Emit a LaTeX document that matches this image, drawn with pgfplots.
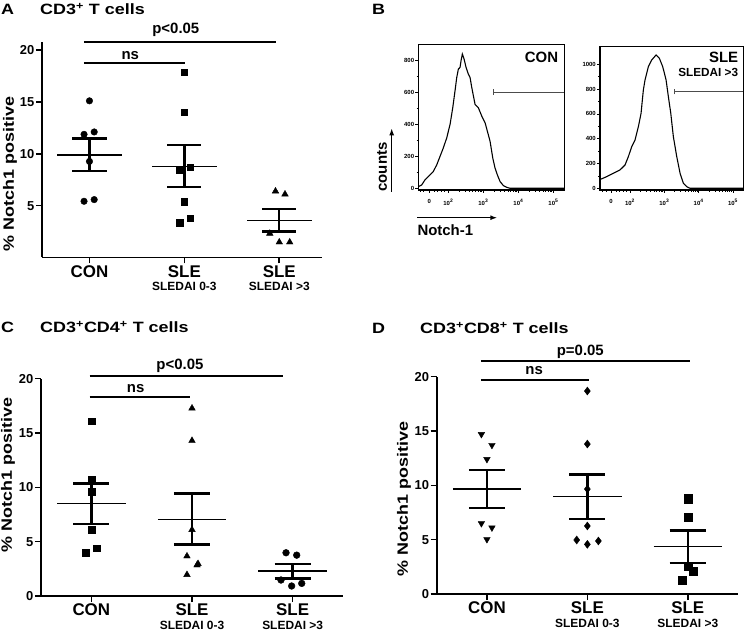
\documentclass[border=0pt]{standalone}
\usepackage{fontspec}
\setmainfont{Liberation Sans}
\usepackage{graphicx}
\usepackage{pgfplots}
\pgfplotsset{compat=1.18}
\usetikzlibrary{arrows.meta}

\newcommand{\fs}[1]{\fontsize{#1}{#1}\selectfont\bfseries}

\pgfplotsset{
  dotaxis/.style={
    scale only axis,
    axis lines=left,
    axis line style={-, line width=1.6pt},
    tick style={black, line width=1.6pt},
    tick align=outside,
    major tick length=6bp,
    xmin=0.5, ymin=0,
    xtick={1,2,3},
    clip=false,
    /pgf/number format/assume math mode=true,
    yticklabel style={font=\fs{13}, inner sep=1.5bp},
    xticklabel style={font=\fontsize{17}{14}\selectfont\bfseries, align=center, inner sep=1.5bp},
    xticklabels={CON,{SLE\\\fs{12}SLEDAI 0-3},{SLE\\\fs{12}SLEDAI >3}},
    ylabel={\scalebox{1.2}[1]{\fs{15}\% Notch1 positive}},
  },
  meanl/.style={black, line width=1.5pt, forget plot},
  seml/.style={black, line width=2.4pt, forget plot, unbounded coords=jump},
  brk/.style={black, line width=1.6pt, forget plot},
  histaxis/.style={
    scale only axis,
    axis line style={line width=1.2pt},
    tick style={black, line width=0.7pt},
    tick align=outside,
    xtick pos=left, ytick pos=left,
    major tick length=3bp, minor tick length=1.8bp,
    tick label style={font=\fs{6}},
    /pgf/number format/assume math mode=true,
    /pgf/number format/1000 sep={},
    xticklabel style={yshift=-3bp},
    yticklabel style={inner sep=1bp},
    minor y tick num=1,
  },
}

\begin{document}
\begin{tikzpicture}
\useasboundingbox (0,0) rectangle (745bp,636bp);

%================ Panel A =================
\begin{axis}[dotaxis, at={(42bp,378.5bp)}, anchor=south west,
  width=280bp, height=215.8bp, xmax=3.45, ymax=20.8,
  ytick={5,10,15,20},
  every axis y label/.style={at={([xshift=-32bp]axis description cs:0,0.387)}, rotate=90, anchor=center}]
\addplot[only marks, mark=*, mark size=3.3pt, black] coordinates {
 (1.0,15.1) (0.943,11.87) (1.05,12.1) (1.0,9.26) (0.943,5.42) (1.05,5.58)};
\addplot[only marks, mark=square*, mark size=3.2pt, black] coordinates {
 (2.0,17.87) (2.0,14.0) (1.95,8.39) (2.06,8.68) (2.0,5.39) (1.95,3.35) (2.06,3.81)};
\addplot[only marks, mark=triangle*, mark size=3.8pt, black] coordinates {
 (2.96,6.39) (3.06,6.1) (2.9,2.32) (3.0,1.48) (3.11,1.48)};
\addplot[meanl] coordinates {(0.66,9.9) (1.34,9.9)};
\addplot[seml] coordinates {(0.82,11.48) (1.18,11.48) (1.18,nan) (1,11.48) (1,8.32) (1,nan) (0.82,8.32) (1.18,8.32)};
\addplot[meanl] coordinates {(1.66,8.77) (2.34,8.77)};
\addplot[seml] coordinates {(1.82,10.84) (2.18,10.84) (2.18,nan) (2,10.84) (2,6.77) (2,nan) (1.82,6.77) (2.18,6.77)};
\addplot[meanl] coordinates {(2.66,3.58) (3.34,3.58)};
\addplot[seml] coordinates {(2.82,4.68) (3.18,4.68) (3.18,nan) (3,4.68) (3,2.52) (3,nan) (2.82,2.52) (3.18,2.52)};
\addplot[brk] coordinates {(0.94,20.75) (2.97,20.75)};
\addplot[brk] coordinates {(0.94,18.73) (2.01,18.73)};
\node[anchor=base, yshift=8.4bp, font=\fs{15}] at (axis cs:1.91,20.75) {p<0.05};
\node[anchor=base, yshift=3.7bp, font=\fs{15}] at (axis cs:1.43,18.73) {ns};
\end{axis}

%================ Panel C =================
\begin{axis}[dotaxis, at={(41bp,40bp)}, anchor=south west,
  width=302bp, height=217.3bp, xmax=3.5, ymax=20,
  ytick={0,5,10,15,20},
  every axis y label/.style={at={([xshift=-33bp]axis description cs:0,0.557)}, rotate=90, anchor=center}]
\addplot[only marks, mark=square*, mark size=3.4pt, black] coordinates {
 (1.0,16.09) (1.0,10.7) (1.0,9.6) (1.0,6.12) (1.053,4.4) (0.944,4.0)};
\addplot[only marks, mark=triangle*, mark size=3.8pt, black] coordinates {
 (2.0,17.28) (2.0,14.3) (2.0,6.1) (1.95,3.67) (2.05,2.84) (2.06,2.97) (1.95,1.96)};
\addplot[only marks, mark=*, mark size=3.4pt, black] coordinates {
 (2.934,3.98) (3.04,3.76) (2.884,1.47) (2.99,0.92) (3.09,1.16)};
\addplot[meanl] coordinates {(0.66,8.5) (1.34,8.5)};
\addplot[seml] coordinates {(0.82,10.37) (1.18,10.37) (1.18,nan) (1,10.37) (1,6.6) (1,nan) (0.82,6.6) (1.18,6.6)};
\addplot[meanl] coordinates {(1.66,7.06) (2.34,7.06)};
\addplot[seml] coordinates {(1.82,9.42) (2.18,9.42) (2.18,nan) (2,9.42) (2,4.74) (2,nan) (1.82,4.74) (2.18,4.74)};
\addplot[meanl] coordinates {(2.66,2.29) (3.34,2.29)};
\addplot[seml] coordinates {(2.82,2.97) (3.18,2.97) (3.18,nan) (3,2.97) (3,1.62) (3,nan) (2.82,1.62) (3.18,1.62)};
\addplot[brk] coordinates {(0.983,20.25) (2.9,20.25)};
\addplot[brk] coordinates {(0.983,18.34) (1.985,18.34)};
\node[anchor=base, yshift=6.7bp, font=\fs{15}] at (axis cs:1.88,20.25) {p<0.05};
\node[anchor=base, yshift=4.7bp, font=\fs{15}] at (axis cs:1.44,18.34) {ns};
\end{axis}

%================ Panel D =================
\begin{axis}[dotaxis, at={(436.7bp,42bp)}, anchor=south west,
  width=301.3bp, height=217.3bp, xmax=3.5, ymax=20,
  ytick={0,5,10,15,20},
  every axis y label/.style={at={([xshift=-32.7bp]axis description cs:0,0.437)}, rotate=90, anchor=center}]
\addplot[only marks, mark=triangle*, mark options={rotate=180}, mark size=3.8pt, black] coordinates {
 (0.945,14.7) (1.05,13.7) (1.0,12.4) (0.945,6.5) (1.05,6.1) (1.0,5.03)};
\addplot[only marks, mark=diamond*, mark size=4pt, black] coordinates {
 (2.0,18.68) (2.0,13.8) (2.0,9.66) (2.0,6.26) (1.894,4.97) (2.0,4.57) (2.11,4.88)};
\addplot[only marks, mark=square*, mark size=4.1pt, black] coordinates {
 (3.0,8.77) (3.0,7.09) (3.0,2.58) (3.053,2.09) (2.947,1.26)};
\addplot[meanl] coordinates {(0.66,9.66) (1.34,9.66)};
\addplot[seml] coordinates {(0.82,11.41) (1.18,11.41) (1.18,nan) (1,11.41) (1,7.91) (1,nan) (0.82,7.91) (1.18,7.91)};
\addplot[meanl] coordinates {(1.66,8.96) (2.34,8.96)};
\addplot[seml] coordinates {(1.82,11.01) (2.18,11.01) (2.18,nan) (2,11.01) (2,6.9) (2,nan) (1.82,6.9) (2.18,6.9)};
\addplot[meanl] coordinates {(2.66,4.36) (3.34,4.36)};
\addplot[seml] coordinates {(2.82,5.86) (3.18,5.86) (3.18,nan) (3,5.86) (3,2.88) (3,nan) (2.82,2.88) (3.18,2.88)};
\addplot[brk] coordinates {(0.94,21.44) (3.02,21.44)};
\addplot[brk] coordinates {(0.94,19.7) (2.02,19.7)};
\node[anchor=base, yshift=6bp, font=\fs{15}] at (axis cs:1.93,21.44) {p=0.05};
\node[anchor=base, yshift=5bp, font=\fs{15}] at (axis cs:1.47,19.7) {ns};
\end{axis}

%================ Panel B: histograms =================
\begin{axis}[histaxis, at={(418.3bp,446bp)}, anchor=south west,
  width=146bp, height=145.7bp,
  xmin=1.143, xmax=5.31, ymin=-10.7, ymax=903,
  ytick={0,200,400,600,800},
  xtick={1.457,2,3,4,5},
  xticklabels={0,10\textsuperscript{2},10\textsuperscript{3},10\textsuperscript{4},10\textsuperscript{5}},
  minor xtick={1.2,1.3,1.6,1.7,1.8,1.9,2.301,2.477,2.602,2.699,2.778,2.845,2.903,2.954,3.301,3.477,3.602,3.699,3.778,3.845,3.903,3.954,4.301,4.477,4.602,4.699,4.778,4.845,4.903,4.954}]
\addplot[black, line width=1.1pt] coordinates {
 (1.143,10) (1.24,21) (1.334,53) (1.477,84) (1.571,105) (1.669,147) (1.763,200) (1.857,253)
 (1.954,316) (2.049,400) (2.126,505) (2.191,611) (2.24,695) (2.286,747) (2.334,758) (2.363,800)
 (2.4,842) (2.449,811) (2.506,758) (2.571,716) (2.62,695) (2.669,632) (2.763,526) (2.857,505)
 (2.954,453) (3.049,411) (3.114,358) (3.191,295) (3.269,189) (3.334,126) (3.4,84) (3.477,42)
 (3.571,17) (3.669,6) (3.763,0) (5.31,0)};
\addplot[gray!60!black, line width=0.7pt] coordinates {(3.286,604) (5.31,604)};
\addplot[gray!60!black, line width=0.7pt] coordinates {(3.286,586) (3.286,622)};
\end{axis}

\begin{axis}[histaxis, at={(600bp,446bp)}, anchor=south west,
  width=143.3bp, height=143.3bp,
  xmin=1.125, xmax=5.30, ymin=-13.7, ymax=1142,
  ytick={0,200,400,600,800,1000},
  xtick={1.446,2,3,4,5},
  xticklabels={0,10\textsuperscript{2},10\textsuperscript{3},10\textsuperscript{4},10\textsuperscript{5}},
  minor xtick={1.2,1.3,1.6,1.7,1.8,1.9,2.301,2.477,2.602,2.699,2.778,2.845,2.903,2.954,3.301,3.477,3.602,3.699,3.778,3.845,3.903,3.954,4.301,4.477,4.602,4.699,4.778,4.845,4.903,4.954}]
\addplot[black, line width=1.1pt] coordinates {
 (1.125,81) (1.145,73) (1.32,94) (1.513,121) (1.708,148) (1.854,188) (1.951,255) (2.049,336)
 (2.146,390) (2.243,497) (2.321,605) (2.388,793) (2.437,874) (2.534,981) (2.632,1035)
 (2.758,1075) (2.855,1048) (2.952,981) (3.05,874) (3.117,739) (3.187,605) (3.262,417)
 (3.361,255) (3.458,121) (3.554,40) (3.653,13) (3.749,0) (5.30,0)};
\addplot[gray!60!black, line width=0.7pt] coordinates {(3.29,780) (5.30,780)};
\addplot[gray!60!black, line width=0.7pt] coordinates {(3.29,757) (3.29,803)};
\end{axis}

% Panel B annotations
\node[anchor=base east, inner sep=0, font=\fs{15}] at (558.3bp,573.3bp) {CON};
\node[anchor=base east, inner sep=0, font=\fs{15}] at (738.3bp,573.3bp) {SLE};
\node[anchor=base east, inner sep=0, font=\fs{11.8}] at (738.3bp,559.3bp) {SLEDAI >3};
\node[rotate=90, inner sep=0, font=\fs{15}] at (382bp,469bp) {counts};
\draw[-{Latex[length=7bp,width=5bp]}, line width=1.4pt] (391.7bp,444.3bp) -- (391.7bp,507.7bp);
\draw[-{Latex[length=7bp,width=5bp]}, line width=1.4pt] (417.3bp,418.3bp) -- (497.3bp,418.3bp);
\node[anchor=base west, inner sep=0, font=\fs{15}] at (417.3bp,400bp) {Notch-1};

% Panel letters and titles
\node[anchor=base west, inner sep=0] at (1bp,621.5bp) {\scalebox{1.2}[1]{\fs{15}A}};
\node[anchor=base west, inner sep=0] at (40bp,621.5bp) {\scalebox{1.2}[1]{\fs{15}CD3\textsuperscript{+} T cells}};
\node[anchor=base west, inner sep=0] at (372bp,621.5bp) {\scalebox{1.2}[1]{\fs{15}B}};
\node[anchor=base west, inner sep=0] at (1bp,303bp) {\scalebox{1.2}[1]{\fs{15}C}};
\node[anchor=base west, inner sep=0] at (40bp,303bp) {\scalebox{1.2}[1]{\fs{15}CD3\textsuperscript{+}CD4\textsuperscript{+} T cells}};
\node[anchor=base west, inner sep=0] at (372bp,302.7bp) {\scalebox{1.2}[1]{\fs{15}D}};
\node[anchor=base west, inner sep=0] at (420bp,302.7bp) {\scalebox{1.2}[1]{\fs{15}CD3\textsuperscript{+}CD8\textsuperscript{+} T cells}};
\end{tikzpicture}
\end{document}
